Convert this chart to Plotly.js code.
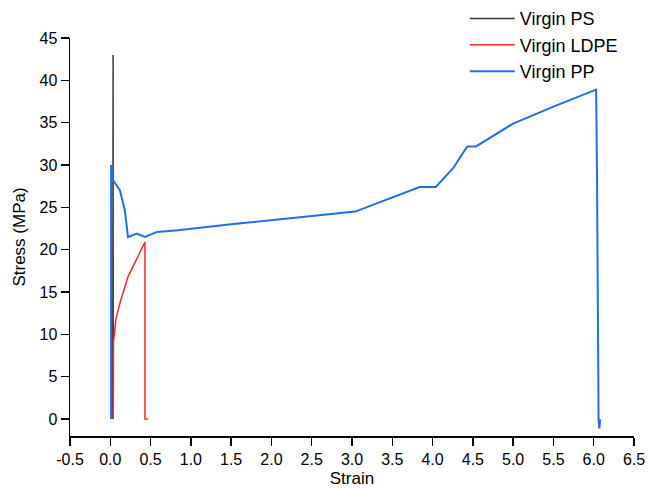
<!DOCTYPE html>
<html>
<head>
<meta charset="utf-8">
<script src="https://cdn.plot.ly/plotly-3.0.1.min.js"></script>
<style>
  html, body { margin: 0; padding: 0; background: #fff; }
  #chart { width: 651px; height: 488px; }
</style>
</head>
<body>
<div id="chart"></div>
<script>
// Stress-strain curves of the three virgin polymers
const psStrain   = [0.03, 0.032, 0.034, 0.035, 0.036, 0.037];
const psStress   = [0.0, 20.0, 41.0, 43.0, 41.0, 0.0];

const ldpeStrain = [0.037, 0.04, 0.07, 0.12, 0.22, 0.32, 0.43, 0.43, 0.47];
const ldpeStress = [0.0, 9.1, 11.8, 13.7, 16.8, 18.8, 20.9, 0.0, 0.0];

const ppStrain = [0.01, 0.01, 0.035, 0.12, 0.18, 0.22, 0.33, 0.43, 0.58, 0.84,
                  1.5, 2.0, 2.5, 3.04, 3.84, 4.04, 4.26, 4.43, 4.54, 5.0,
                  5.5, 6.03, 6.04, 6.05, 6.06, 6.07, 6.08];
const ppStress = [0.0, 30.0, 28.2, 27.0, 24.7, 21.5, 21.9, 21.5, 22.1, 22.3,
                  23.0, 23.5, 24.0, 24.5, 27.4, 27.4, 29.7, 32.2, 32.2, 34.9,
                  36.9, 38.9, 30.0, 15.0, 0.0, -1.1, 0.0];

const xTicks = [-0.5, 0.0, 0.5, 1.0, 1.5, 2.0, 2.5, 3.0, 3.5, 4.0, 4.5, 5.0, 5.5, 6.0, 6.5];
const yTicks = [0, 5, 10, 15, 20, 25, 30, 35, 40, 45];

const baseFont = 'Liberation Sans, Arial, sans-serif';

const traces = [
  { x: psStrain, y: psStress, name: 'Virgin PS', mode: 'lines',
    line: { color: '#3c3c3c', width: 1.5 } },
  { x: ldpeStrain, y: ldpeStress, name: 'Virgin LDPE', mode: 'lines',
    line: { color: '#f52a2a', width: 1.5 } },
  { x: ppStrain, y: ppStress, name: 'Virgin PP', mode: 'lines',
    line: { color: '#1f6fe8', width: 2 } }
];

const axisCommon = {
  showline: true, linecolor: '#000', linewidth: 1.5,
  ticks: 'outside', ticklen: 8, tickwidth: 1.5, tickcolor: '#000',
  showgrid: false, zeroline: false, mirror: false,
  tickfont: { family: baseFont, size: 16, color: '#000' }
};

const layout = {
  width: 651, height: 488,
  margin: { l: 70, r: 17, t: 38, b: 52, autoexpand: false },
  paper_bgcolor: '#fff', plot_bgcolor: '#fff',
  font: { family: baseFont, color: '#000' },
  showlegend: true,
  legend: {
    x: 0.70, y: 1.095, xanchor: 'left', yanchor: 'top',
    bgcolor: 'rgba(0,0,0,0)', borderwidth: 0,
    font: { family: baseFont, size: 18, color: '#000' },
    itemwidth: 45
  },
  xaxis: Object.assign({}, axisCommon, {
    range: [-0.5, 6.5], tickvals: xTicks,
    ticktext: xTicks.map(v => v.toFixed(1)),
    title: { text: 'Strain', font: { family: baseFont, size: 17, color: '#000' }, standoff: 10 }
  }),
  yaxis: Object.assign({}, axisCommon, {
    range: [-2, 45], tickvals: yTicks,
    title: { text: 'Stress (MPa)', font: { family: baseFont, size: 17, color: '#000' }, standoff: 9 }
  })
};

Plotly.newPlot('chart', traces, layout, { displayModeBar: false, staticPlot: true });
</script>
</body>
</html>
